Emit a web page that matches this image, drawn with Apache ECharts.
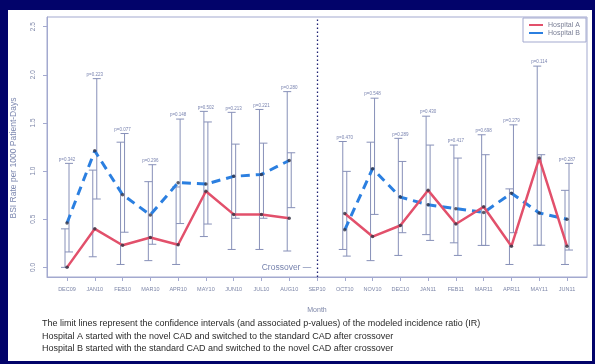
<!DOCTYPE html>
<html>
<head>
<meta charset="utf-8">
<script src="https://cdn.jsdelivr.net/npm/echarts@6/dist/echarts.min.js"></script>
<style>
  html, body { margin: 0; padding: 0; background: #02036a; }
  #chart { width: 595px; height: 364px; }
</style>
</head>
<body>
<div id="chart"></div>
<script>
// Monthly BSI rates per 1000 patient-days, crossover study (SEP10 = crossover month)
const months = ['DEC09','JAN10','FEB10','MAR10','APR10','MAY10','JUN10','JUL10','AUG10','SEP10',
                'OCT10','NOV10','DEC10','JAN11','FEB11','MAR11','APR11','MAY11','JUN11'];

const hospitalA = [0.00, 0.40, 0.23, 0.31, 0.235, 0.79, 0.55, 0.55, 0.51, null,
                   0.56, 0.32, 0.435, 0.80, 0.45, 0.63, 0.22, 1.135, 0.22];
const hospitalB = [0.46, 1.21, 0.755, 0.545, 0.88, 0.865, 0.945, 0.965, 1.11, null,
                   0.39, 1.025, 0.73, 0.65, 0.61, 0.57, 0.77, 0.565, 0.50];

// confidence limits of the modeled incidence ratio
const hospitalALow  = [0.00, 0.11, 0.03, 0.07, 0.03, 0.32, 0.186, 0.186, 0.17, null,
                       0.186, 0.07, 0.124, 0.34, 0.255, 0.228, 0.03, 0.23, 0.03];
const hospitalAHigh = [0.40, 1.01, 1.30, 0.89, 0.835, 1.62, 1.61, 1.64, 1.825, null,
                       1.307, 1.30, 1.34, 1.57, 1.27, 1.377, 0.815, 2.09, 0.80];
const hospitalBLow  = [0.16, 0.71, 0.365, 0.24, 0.455, 0.45, 0.51, 0.51, 0.62, null,
                       0.117, 0.55, 0.36, 0.28, 0.124, 0.228, 0.36, 0.23, 0.18];
const hospitalBHigh = [1.08, 1.96, 1.39, 1.066, 1.54, 1.51, 1.28, 1.29, 1.19, null,
                       0.997, 1.757, 1.10, 1.27, 1.135, 1.17, 1.48, 1.17, 1.08];

const pValues = ['p=0.342','p=0.223','p=0.077','p=0.296','p=0.148','p=0.502','p=0.213','p=0.221','p=0.280', null,
                 'p=0.470','p=0.548','p=0.289','p=0.430','p=0.417','p=0.698','p=0.279','p=0.114','p=0.287'];

const yTicks = [0, 0.5, 1, 1.5, 2, 2.5];
const crossoverIndex = 9;

const notes = [
  'The limit lines represent the confidence intervals (and associated p-values) of the modeled incidence ratio (IR)',
  'Hospital A started with the novel CAD and switched to the standard CAD after crossover',
  'Hospital B started with the standard CAD and switched to the novel CAD after crossover'
];

const FONT = '"Liberation Sans", Arial, sans-serif';
const RED = '#e2506b';
const BLUE = '#2b7fe0';
const BAR = '#8790b8';
const AXIS = '#a3a9cf';

const xIdx = months.map((_, i) => i);
const toPairs = arr => arr.map((v, i) => [i, v == null ? '-' : v]);
const toBars = (lo, hi) => lo.map((v, i) => v == null ? null : [i, v, hi[i]]).filter(Boolean);

function errorBarRenderer(shift) {
  return function (params, api) {
    const i = api.value(0);
    const top = api.coord([i, api.value(2)]);
    const bot = api.coord([i, api.value(1)]);
    const x = top[0] + shift;
    const style = { stroke: BAR, lineWidth: 1 };
    return {
      type: 'group',
      children: [
        { type: 'line', shape: { x1: x, y1: top[1], x2: x, y2: bot[1] }, style },
        { type: 'line', shape: { x1: x - 4, y1: top[1], x2: x + 4, y2: top[1] }, style },
        { type: 'line', shape: { x1: x - 4, y1: bot[1], x2: x + 4, y2: bot[1] }, style }
      ]
    };
  };
}

const pLabelData = pValues.map((p, i) => p == null ? null :
  [i, Math.max(hospitalAHigh[i], hospitalBHigh[i]), p]).filter(Boolean);

const chart = echarts.init(document.getElementById('chart'), null, { renderer: 'canvas' });

chart.setOption({
  backgroundColor: '#02036a',
  animation: false,
  textStyle: { fontFamily: FONT },
  grid: { left: 47, right: 8, top: 17, bottom: 87, show: true, borderColor: AXIS, borderWidth: 1, backgroundColor: 'transparent' },
  xAxis: {
    type: 'value',
    min: -0.72,
    max: 18.72,
    name: 'Month',
    nameLocation: 'middle',
    nameGap: 30,
    nameTextStyle: { color: '#7d86a8', fontSize: 7, fontFamily: FONT },
    splitLine: { show: false },
    axisLine: { show: true, onZero: false, lineStyle: { color: AXIS } },
    axisTick: { show: true, length: 4, lineStyle: { color: AXIS }, customValues: xIdx },
    axisLabel: {
      customValues: xIdx,
      formatter: v => months[Math.round(v)],
      color: '#7d86a8', fontSize: 5.5, margin: 9, fontFamily: FONT
    }
  },
  yAxis: {
    type: 'value',
    min: -0.1,
    max: 2.6,
    splitLine: { show: false },
    axisLine: { show: true, onZero: false, lineStyle: { color: AXIS } },
    axisTick: { show: true, length: 4, lineStyle: { color: AXIS }, customValues: yTicks },
    axisLabel: {
      customValues: yTicks,
      formatter: v => v.toFixed(1),
      rotate: 90,
      color: '#7d86a8', fontSize: 6.5, margin: 10, fontFamily: FONT
    }
  },
  graphic: [
    { type: 'rect', z: -10, silent: true, shape: { x: 8, y: 10, width: 584, height: 351 }, style: { fill: '#ffffff' } },
    {
      type: 'text', x: 14, y: 158, rotation: Math.PI / 2,
      style: { text: 'BSI Rate per 1000 Patient-Days', fill: '#7d88b0', font: '8.5px ' + FONT, textAlign: 'center', textVerticalAlign: 'middle' }
    },
    // legend box
    { type: 'rect', shape: { x: 523, y: 18, width: 63, height: 24 }, style: { fill: '#ffffff', stroke: AXIS, lineWidth: 1 } },
    { type: 'line', shape: { x1: 529, y1: 25, x2: 543, y2: 25 }, style: { stroke: RED, lineWidth: 2 } },
    { type: 'line', shape: { x1: 529, y1: 33, x2: 543, y2: 33 }, style: { stroke: BLUE, lineWidth: 2 } },
    { type: 'text', x: 548, y: 25, style: { text: 'Hospital A', fill: '#7a7f95', font: '7px ' + FONT, textVerticalAlign: 'middle' } },
    { type: 'text', x: 548, y: 33, style: { text: 'Hospital B', fill: '#7a7f95', font: '7px ' + FONT, textVerticalAlign: 'middle' } },
    // footnotes
    ...notes.map((t, k) => ({
      type: 'text', x: 42, y: 324 + k * 12.5,
      style: { text: t, fill: '#2a2a2a', font: '9px ' + FONT, textVerticalAlign: 'middle' }
    }))
  ],
  series: [
    {
      name: 'Hospital A CI', type: 'custom', renderItem: errorBarRenderer(-2),
      data: toBars(hospitalALow, hospitalAHigh), z: 1, silent: true
    },
    {
      name: 'Hospital B CI', type: 'custom', renderItem: errorBarRenderer(2),
      data: toBars(hospitalBLow, hospitalBHigh), z: 1, silent: true
    },
    {
      name: 'p-values', type: 'custom', silent: true, z: 3,
      renderItem: (params, api) => {
        const i = api.value(0);
        const pt = api.coord([i, api.value(1)]);
        return {
          type: 'text', x: pt[0], y: pt[1] - 1.5,
          style: { text: pValues[i], fill: '#7a84b0', font: '4.5px ' + FONT, textAlign: 'center', textVerticalAlign: 'bottom' }
        };
      },
      data: pLabelData
    },
    {
      name: 'Hospital B', type: 'line', data: toPairs(hospitalB), connectNulls: false,
      symbol: 'none', z: 4,
      lineStyle: { color: BLUE, width: 3, type: [9, 6] }
    },
    {
      name: 'Hospital A', type: 'line', data: toPairs(hospitalA), connectNulls: false,
      symbol: 'none', z: 5,
      lineStyle: { color: RED, width: 2.5 },
      markLine: {
        silent: true, symbol: 'none', label: { show: false },
        lineStyle: { color: '#1c1f72', width: 1.3, type: [1.5, 2.5] },
        data: [{ xAxis: crossoverIndex }]
      }
    },
    {
      name: 'points', type: 'scatter', z: 6, symbolSize: 3.5, silent: true,
      itemStyle: { color: '#333344' },
      data: toPairs(hospitalA).concat(toPairs(hospitalB)).filter(d => d[1] !== '-')
    },
    {
      name: 'crossover', type: 'custom', silent: true, z: 3,
      renderItem: (params, api) => {
        const pt = api.coord([api.value(0), api.value(1)]);
        return {
          type: 'text', x: pt[0] - 4, y: pt[1],
          style: { text: 'Crossover \u2014\u2009', fill: '#7682ad', font: '8.5px ' + FONT, textAlign: 'right', textVerticalAlign: 'middle' }
        };
      },
      data: [[crossoverIndex, 0]]
    }
  ]
});
</script>
</body>
</html>
